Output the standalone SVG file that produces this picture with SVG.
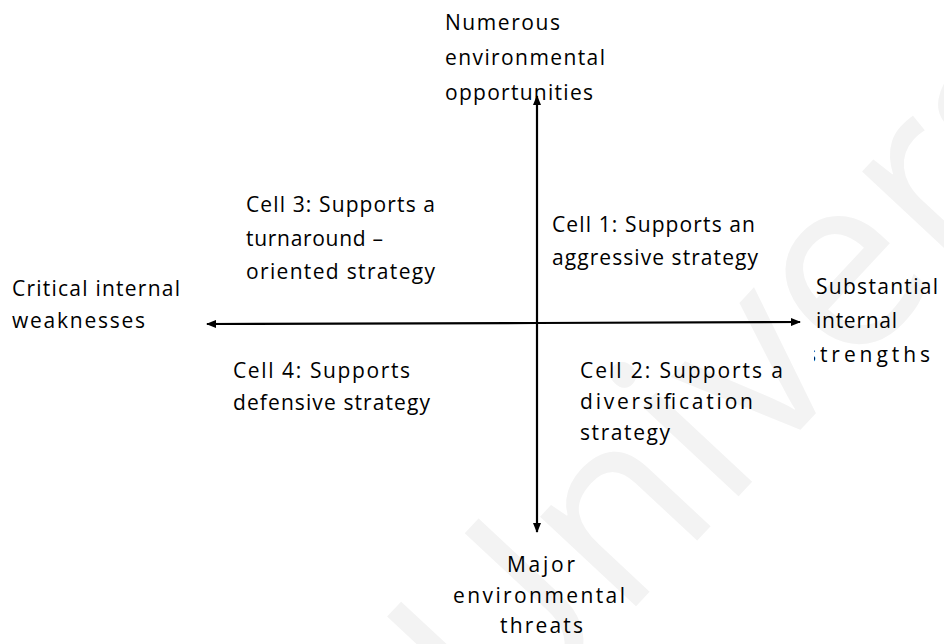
<svg xmlns="http://www.w3.org/2000/svg" width="944" height="644" viewBox="0 0 944 644">
<style>
  text { font-family: "Open Sans", "Liberation Sans", sans-serif; font-size: 21px; fill: #000; }
  .wm { font-size: 245px; fill: #f3f3f3; }
  .axis { stroke: #000; stroke-width: 2.2; fill: none; }
</style>
<defs>
  <marker id="ah" viewBox="0 0 10 8" refX="9" refY="4" markerWidth="10" markerHeight="8" markerUnits="userSpaceOnUse" orient="auto">
    <path d="M0,0 L10,4 L0,8 z" fill="#000"/>
  </marker>
  <clipPath id="clipStr"><rect x="814" y="335" width="130" height="40"/></clipPath>
</defs>
<rect width="944" height="644" fill="#fff"/>
<text class="wm" x="500" y="752" transform="rotate(-47 500 752)">University</text>

<g id="connectors">
  <line class="axis" x1="537" y1="323" x2="537" y2="96" marker-end="url(#ah)"/>
  <line class="axis" x1="537" y1="323" x2="537" y2="532" marker-end="url(#ah)"/>
  <line class="axis" x1="537" y1="323" x2="800" y2="322" marker-end="url(#ah)"/>
  <line class="axis" x1="537" y1="323" x2="207" y2="324" marker-end="url(#ah)"/>
</g>

<g id="top-label">
  <text x="445" y="30" textLength="115" lengthAdjust="spacing">Numerous</text>
  <text x="445" y="65" textLength="160" lengthAdjust="spacing">environmental</text>
  <text x="445" y="100" textLength="148" lengthAdjust="spacing">opportunities</text>
</g>
<g id="bottom-label">
  <text x="507" y="572" textLength="68" lengthAdjust="spacing">Major</text>
  <text x="453" y="603" textLength="172" lengthAdjust="spacing">environmental</text>
  <text x="500" y="633" textLength="83" lengthAdjust="spacing">threats</text>
</g>
<g id="left-label">
  <text x="12" y="296" textLength="168" lengthAdjust="spacing">Critical internal</text>
  <text x="12" y="328" textLength="133" lengthAdjust="spacing">weaknesses</text>
</g>
<g id="right-label">
  <text x="816" y="294" textLength="122" lengthAdjust="spacing">Substantial</text>
  <text x="816" y="328" textLength="81" lengthAdjust="spacing">internal</text>
  <text x="806" y="362" textLength="124" lengthAdjust="spacing" clip-path="url(#clipStr)">strengths</text>
</g>
<g id="cell1">
  <text x="552" y="232" textLength="203" lengthAdjust="spacing">Cell 1: Supports an</text>
  <text x="552" y="265" textLength="206" lengthAdjust="spacing">aggressive strategy</text>
</g>
<g id="cell2">
  <text x="580" y="378" textLength="203" lengthAdjust="spacing">Cell 2: Supports a</text>
  <text x="580" y="409" textLength="173" lengthAdjust="spacing">diversification</text>
  <text x="580" y="440" textLength="90" lengthAdjust="spacing">strategy</text>
</g>
<g id="cell3">
  <text x="246" y="212" textLength="189" lengthAdjust="spacing">Cell 3: Supports a</text>
  <text x="246" y="246" textLength="137" lengthAdjust="spacing">turnaround –</text>
  <text x="246" y="279" textLength="189" lengthAdjust="spacing">oriented strategy</text>
</g>
<g id="cell4">
  <text x="233" y="378" textLength="177" lengthAdjust="spacing">Cell 4: Supports</text>
  <text x="233" y="410" textLength="197" lengthAdjust="spacing">defensive strategy</text>
</g>
</svg>
